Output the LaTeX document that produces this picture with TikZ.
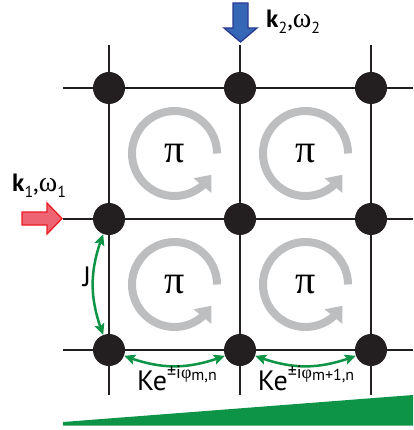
\documentclass[tikz,border=0pt]{standalone}
\usepackage{fontspec}
\setmainfont{PT Sans}
\newfontfamily\gk{Liberation Serif}
\usetikzlibrary{arrows.meta,bending}
\definecolor{dotc}{HTML}{231F20}
\definecolor{grayc}{HTML}{BCBEC0}
\definecolor{greenc}{HTML}{0E9446}
\definecolor{bluef}{HTML}{3567B6}
\definecolor{bluel}{HTML}{2B3990}
\definecolor{redf}{HTML}{EE6472}
\definecolor{redl}{HTML}{ED1C24}
\newcommand\kelab[1]{Ke\raisebox{12pt}{\fontsize{18}{18}\selectfont ±i{\gk φ}\raisebox{-2pt}{\fontsize{16}{16}\selectfont #1}}}
\newcommand\wavelab[1]{\textbf{k}\raisebox{-6pt}{\fontsize{16}{16}\selectfont #1},{\gk\fontsize{28}{28}\selectfont ω}\raisebox{-6pt}{\fontsize{16}{16}\selectfont #1}}
\begin{document}
\begin{tikzpicture}[x=1pt,y=-1pt,
  dot/.style={circle,fill=dotc,minimum size=32pt,inner sep=0pt},
  gridline/.style={line width=1.3pt,dotc},
  cyc/.style={grayc,line width=8pt,-{Triangle[length=14pt,width=22pt]}},
  hop/.style={greenc,line width=2.5pt,{Stealth[length=11pt,width=10pt,inset=2pt]}-{Stealth[length=11pt,width=10pt,inset=2pt]}},
  pilab/.style={font=\gk\fontsize{40}{40}\selectfont},
  lab/.style={inner sep=0pt,font=\fontsize{28}{28}\selectfont},
  wave/.style={font=\fontsize{25}{25}\selectfont,inner sep=0pt,anchor=base west}]
\useasboundingbox (0,0) rectangle (413,430);
% grid
\foreach \y in {88,219,350} \draw[gridline] (63,\y) -- (413,\y);
\foreach \x in {109,240,371} \draw[gridline] (\x,45) -- (\x,395);
% dots
\foreach \i/\x in {0/109,1/240,2/371}
  \foreach \j/\y in {0/88,1/219,2/350}
    \node[dot] (d\i\j) at (\x,\y) {};
% plaquettes
\foreach \n/\cx/\cy in {1/174.5/153.5,2/305.5/153.5,3/174.5/284.5,4/305.5/284.5}{
  \draw[cyc] ([shift={(0:42.5)}]\cx,\cy) arc[start angle=0,end angle=-330,radius=42.5];
  \node[pilab] (p\n) at (\cx,\cy) {π};
}
% incoming beams
\draw[fill=bluef,draw=bluel,line width=1.3pt] (233,3) -- (248,3) -- (248,28) -- (257,28) -- (240.5,42) -- (224,28) -- (233,28) -- cycle;
\draw[fill=redf,draw=redl,line width=1.3pt] (22,212) -- (47,212) -- (47,203) -- (62,218.5) -- (47,234) -- (47,225) -- (22,225) -- cycle;
\node[wave] (k2) at (266,28) {\wavelab{2}};
\node[wave] (k1) at (12,191) {\wavelab{1}};
% couplings
\draw[hop] (d01) to[bend right=21] (d02);
\draw[hop] (d02) to[bend right=21] (d12);
\draw[hop] (d12) to[bend right=21] (d22);
\node[lab] (jl) at (87,277) {J};
\node[lab,anchor=base] (l1) at (177,390) {\kelab{m,n}};
\node[lab,anchor=base] (l2) at (306,390) {\kelab{m+1,n}};
% gradient wedge
\fill[greenc] (63,422) -- (413,395) -- (413,425.5) -- (63,425.5) -- cycle;
\end{tikzpicture}
\end{document}
